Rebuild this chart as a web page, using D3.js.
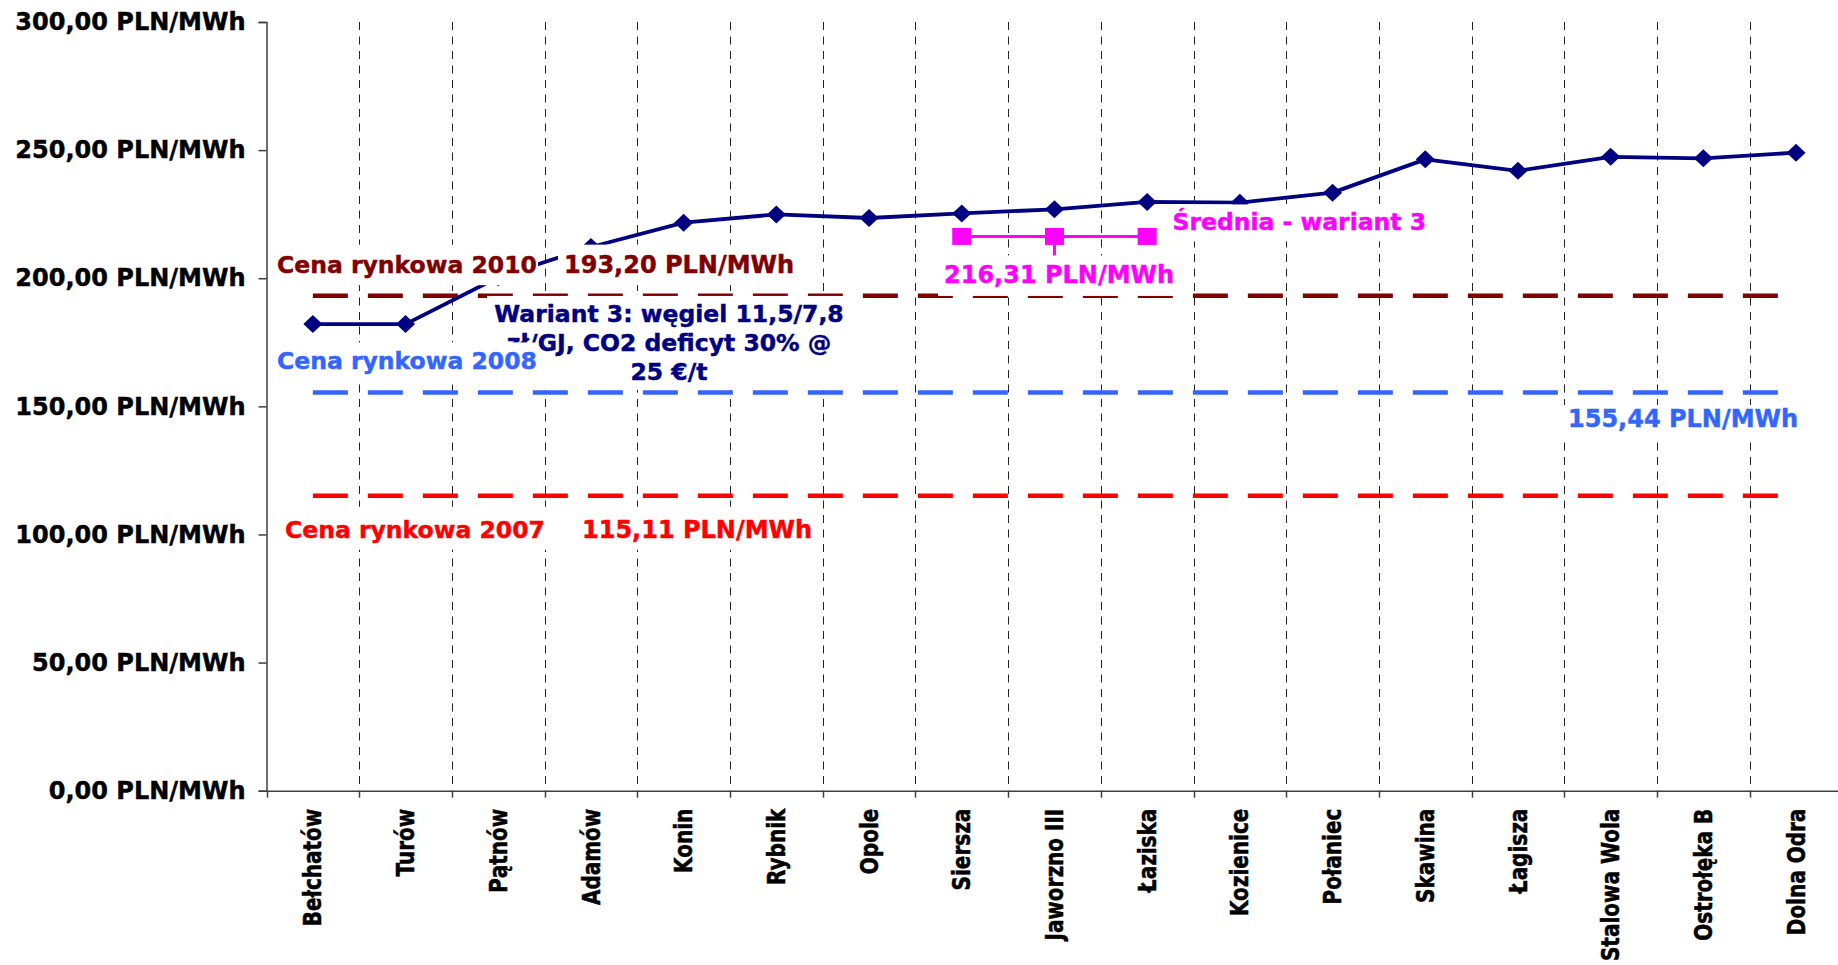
<!DOCTYPE html>
<html>
<head>
<meta charset="utf-8">
<script src="https://cdn.jsdelivr.net/npm/d3@7"></script>
<style>
  html, body { margin: 0; padding: 0; background: #ffffff; }
  svg { display: block; font-family: "DejaVu Sans", Verdana, sans-serif; font-weight: bold; }
  text { stroke: currentColor; stroke-width: 0.45px; }
</style>
</head>
<body>
<svg id="chart" width="1838" height="965"></svg>
<script>
// Power plants along the category axis
const categories = ["Bełchatów", "Turów", "Pątnów", "Adamów", "Konin", "Rybnik", "Opole", "Siersza",
  "Jaworzno III", "Łaziska", "Kozienice", "Połaniec", "Skawina", "Łagisza", "Stalowa Wola",
  "Ostrołęka B", "Dolna Odra"];

// Wariant 3 generation cost, PLN/MWh
const wariant3 = [182.1, 182.1, 200.4, 212.2, 221.7, 224.9, 223.5, 225.3, 226.9, 229.8, 229.5,
  233.4, 246.4, 241.9, 247.4, 246.8, 249.0];

// Market reference prices, PLN/MWh
const marketYears = [2010, 2008, 2007];
const marketPrices = [193.20, 155.44, 115.11];

// Average for Wariant 3, drawn over three plants
const meanCategories = ["Siersza", "Jaworzno III", "Łaziska"];
const meanValue = 216.31;

// Value axis ticks
const yTicks = [0, 50, 100, 150, 200, 250, 300];

const wariantNote = ["Wariant 3: węgiel 11,5/7,8", "zł/GJ, CO2 deficyt 30% @", "25 €/t"];

// ---------------------------------------------------------------------------
const svg = d3.select("#chart");
const X0 = 266.5, X1 = 1842.4, Y0 = 790.7, Y1 = 22;

const x = d3.scaleBand().domain(categories).range([X0, X1]).padding(0);
const cx = c => x(c) + x.bandwidth() / 2;
const crisp = v => Math.round(v) + 0.5;
const y = d3.scaleLinear().domain([0, 300]).range([Y0, Y1]);

const pl = d3.formatLocale({ decimal: ",", thousands: " ", grouping: [3], currency: ["", ""] });
const fmt = pl.format(".2f");
const pln = v => fmt(v) + " PLN/MWh";

const FONT = 23.5, NUM_FONT = 24;
const colors = { 2010: "#800000", 2008: "#3366FF", 2007: "#FF0000" };
const NAVY = "#000080", MAGENTA = "#FF00FF";

// Vertical dashed separators between plants
svg.append("g").selectAll("line")
  .data(categories.slice(1))
  .join("line")
  .attr("x1", d => crisp(x(d))).attr("x2", d => crisp(x(d)))
  .attr("y1", Y1).attr("y2", Y0)
  .attr("stroke", "#222").attr("stroke-width", 1)
  .attr("stroke-dasharray", "8,6.5");

// Market price reference lines
const first = cx(categories[0]), last = cx(categories[categories.length - 1]);
svg.append("g").selectAll("line")
  .data(marketYears.map((yr, i) => ({ yr, v: marketPrices[i] })))
  .join("line")
  .attr("x1", first).attr("x2", last)
  .attr("y1", d => y(d.v)).attr("y2", d => y(d.v))
  .attr("stroke", d => colors[d.yr]).attr("stroke-width", 4.5)
  .attr("stroke-dasharray", "35,20");

// Wariant 3 series
const pts = categories.map((c, i) => [cx(c), y(wariant3[i])]);
svg.append("path")
  .attr("d", d3.line()(pts))
  .attr("fill", "none").attr("stroke", NAVY).attr("stroke-width", 3.8)
  .attr("stroke-linejoin", "round");
svg.append("g").selectAll("path")
  .data(pts)
  .join("path")
  .attr("d", "M0,-9L9.5,0L0,9L-9.5,0Z")
  .attr("transform", d => `translate(${d[0]},${d[1]})`)
  .attr("fill", NAVY);

// Average series
const mPts = meanCategories.map(c => [cx(c), y(meanValue)]);
svg.append("path")
  .attr("d", d3.line()(mPts))
  .attr("fill", "none").attr("stroke", MAGENTA).attr("stroke-width", 3);
svg.append("line")
  .attr("x1", mPts[1][0]).attr("x2", mPts[1][0])
  .attr("y1", mPts[1][1]).attr("y2", mPts[1][1] + 40)
  .attr("stroke", MAGENTA).attr("stroke-width", 3);
svg.append("g").selectAll("rect")
  .data(mPts)
  .join("rect")
  .attr("x", d => d[0] - 9.5).attr("y", d => d[1] - 8.5)
  .attr("width", 19).attr("height", 17)
  .attr("fill", MAGENTA);

// Axes
const yAxis = d3.axisLeft(y).tickValues(yTicks).tickSize(8).tickPadding(13).tickFormat(pln);
const gy = svg.append("g").attr("transform", `translate(${X0},0)`).call(yAxis);
gy.select(".domain").attr("stroke", "#404040").attr("stroke-width", 1.5);
gy.selectAll(".tick line").attr("stroke", "#404040").attr("stroke-width", 1.5);
gy.selectAll(".tick text")
  .attr("font-size", NUM_FONT).attr("font-family", "DejaVu Sans, Verdana, sans-serif")
  .attr("font-weight", "bold").attr("fill", "#000").style("color", "#000");

const xAxis = d3.axisBottom(x).tickSize(0).tickPadding(0);
const gx = svg.append("g").attr("transform", `translate(0,${Y0})`).call(xAxis);
gx.select(".domain").attr("stroke", "#404040").attr("stroke-width", 1.5);
gx.selectAll(".tick text")
  .attr("font-size", 20).attr("font-family", "DejaVu Sans, Verdana, sans-serif")
  .attr("font-weight", "bold").attr("fill", "#000").style("color", "#000")
  .attr("text-anchor", "end")
  .attr("transform", "rotate(-90) scale(1,1.2)")
  .attr("x", -18).attr("y", 0).attr("dy", "0.36em");
// Separator ticks below the category axis
svg.append("g").selectAll("line")
  .data(categories)
  .join("line")
  .attr("x1", d => crisp(x(d))).attr("x2", d => crisp(x(d)))
  .attr("y1", Y0).attr("y2", Y0 + 7)
  .attr("stroke", "#404040").attr("stroke-width", 1.5);

// Annotation boxes (white filled text boxes)
const notes = svg.append("g");
function box(x0, y0, x1, y1) {
  notes.append("rect").attr("x", x0).attr("y", y0)
    .attr("width", x1 - x0).attr("height", y1 - y0).attr("fill", "#fff");
}
function label(txt, tx, ty, color, anchor, size) {
  notes.append("text").attr("x", tx).attr("y", ty)
    .attr("font-size", size || FONT).attr("fill", color).style("color", color)
    .attr("text-anchor", anchor || "start").text(txt);
}

const y2010 = y(marketPrices[0]), y2008 = y(marketPrices[1]), y2007 = y(marketPrices[2]);
const yMean = y(meanValue);

// 2010 market price
box(272, y2010 - 51, 538, y2010 - 10.5);
label("Cena rynkowa " + marketYears[0], 277, y2010 - 22.4, colors[2010]);
box(558, y2010 - 51, 802, y2010 - 10.5);
label(pln(marketPrices[0]), 564, y2010 - 22.4, colors[2010], "start", NUM_FONT);

// Wariant 3 description
box(487, y2010 + 0.3, 848, 390);
wariantNote.forEach((t, i) => label(t, 669, 321.7 + i * 29, NAVY, "middle"));

// 2008 market price
box(272, y2008 - 50, 537, y2008 - 10);
label("Cena rynkowa " + marketYears[1], 277, y2008 - 23, colors[2008]);
box(1562, y2008 + 12.6, 1805, y2008 + 48);
label(pln(marketPrices[1]), 1568, y2008 + 35, colors[2008], "start", NUM_FONT);

// 2007 market price
box(278, y2007 + 11, 816, y2007 + 54);
label("Cena rynkowa " + marketYears[2], 285, y2007 + 42.5, colors[2007]);
label(pln(marketPrices[2]), 582, y2007 + 42.5, colors[2007], "start", NUM_FONT);

// Average
box(938, yMean + 19, 1176, yMean + 59.5);
label(pln(meanValue), 944, yMean + 47, MAGENTA, "start", NUM_FONT);
box(1165, yMean - 32, 1430, yMean + 5);
label("Średnia - wariant 3", 1172.5, yMean - 6.4, MAGENTA);
</script>
</body>
</html>
